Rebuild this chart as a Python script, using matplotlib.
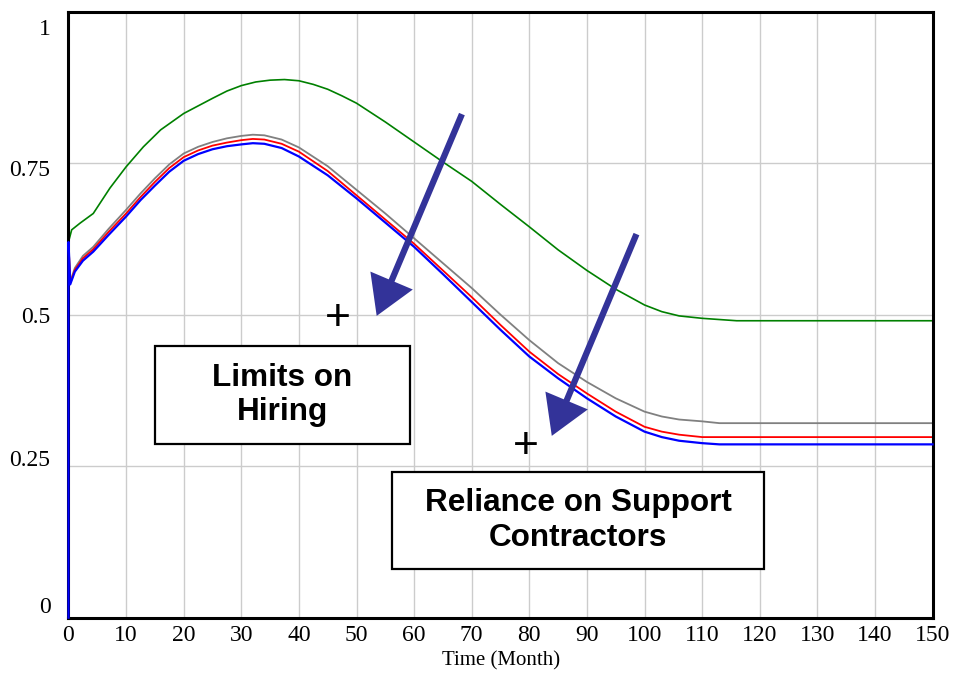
import matplotlib.pyplot as plt
import matplotlib.transforms as mtransforms
from matplotlib.patches import FancyArrowPatch

# values (Time in months)
t_green = [0, 0, 0.55, 2, 4.3, 7.2, 10, 13, 16, 20, 22.8, 25, 27.5, 30, 32.5, 35,
           37.5, 40, 42.5, 45, 47.5, 50, 55, 60, 65, 70, 75, 80, 85, 90, 95, 100, 103, 106,
           110, 116, 150]
v_green = [0, 0.62, 0.640, 0.651, 0.667, 0.709, 0.744, 0.777, 0.805, 0.832, 0.846, 0.857,
           0.869, 0.878, 0.884, 0.887, 0.888, 0.886, 0.880, 0.872, 0.861,
           0.849, 0.818, 0.785, 0.752, 0.720, 0.682, 0.645, 0.607, 0.573, 0.542, 0.516,
           0.505, 0.498, 0.494, 0.490, 0.490]

t_base = [0, 0, 0.3, 1.1, 2.5, 4.3, 7, 10, 12.5, 15, 17.5, 20, 22.5, 25, 27.5, 30, 32, 34,
          37, 40, 45, 50, 55, 60, 65, 70, 75, 80, 85, 90, 95, 100, 103, 106, 110, 113, 150]
v_gray = [0, 0.62, 0.555, 0.577, 0.597, 0.612, 0.642, 0.673, 0.700, 0.725, 0.748, 0.766,
          0.777, 0.785, 0.791, 0.795, 0.797, 0.796, 0.789, 0.776, 0.745, 0.706, 0.667,
          0.626, 0.585, 0.544, 0.500, 0.458, 0.420, 0.389, 0.362, 0.340, 0.332, 0.327,
          0.324, 0.321, 0.321]
v_red = [0, 0.62, 0.552, 0.574, 0.593, 0.608, 0.637, 0.667, 0.694, 0.719, 0.742, 0.760,
         0.771, 0.779, 0.784, 0.788, 0.790, 0.789, 0.782, 0.769, 0.737, 0.697, 0.657,
         0.617, 0.573, 0.529, 0.483, 0.439, 0.402, 0.370, 0.340, 0.315, 0.307, 0.302,
         0.298, 0.298, 0.298]
v_blue = [0, 0.62, 0.550, 0.571, 0.589, 0.604, 0.632, 0.662, 0.689, 0.713, 0.736, 0.754,
          0.765, 0.773, 0.778, 0.781, 0.783, 0.782, 0.775, 0.761, 0.730, 0.692, 0.652,
          0.612, 0.567, 0.521, 0.475, 0.431, 0.395, 0.362, 0.332, 0.307, 0.298, 0.292,
          0.288, 0.286, 0.286]

x_ticks = list(range(0, 151, 10))
y_ticks = [0, 0.25, 0.5, 0.75, 1]
y_labels = ['0', '0.25', '0.5', '0.75', '1']

fig = plt.figure(figsize=(9.54, 6.79), dpi=100)
ax = fig.add_axes([0.0718, 0.0903, 0.9057, 0.8925])

ax.plot(t_green, v_green, color='#008000', lw=1.2)
ax.plot(t_base, v_gray, color='#808080', lw=1.3)
ax.plot(t_base, v_red, color='#ff0000', lw=1.3)
ax.plot(t_base, v_blue, color='#0000ff', lw=1.6, zorder=3, clip_on=False)

ax.set_xlim(0, 150)
ax.set_ylim(0, 1)
ax.set_xticks(x_ticks)
ax.set_yticks(y_ticks)
ax.set_yticklabels(y_labels)
ax.grid(True, color='#cccccc', lw=1.0)
ax.set_axisbelow(True)
ax.tick_params(length=0, labelsize=17)
ax.tick_params(axis='x', pad=5)
ax.tick_params(axis='y', pad=13)
for lab in ax.get_xticklabels() + ax.get_yticklabels():
    lab.set_fontfamily('Liberation Serif')

# vensim places the y labels a little off the grid lines
ylabs = ax.get_yticklabels()
ylabs[0].set_va('bottom')
ylabs[-1].set_va('top')
shifts = [0, 6, 0, -3.5, -5]
for lab, dy in zip(ylabs, shifts):
    lab.set_transform(lab.get_transform() +
                      mtransforms.ScaledTranslation(0, dy / 72, fig.dpi_scale_trans))

for s in ax.spines.values():
    s.set_linewidth(2.2)
    s.set_color('black')

fig.text(501 / 954, 1 - 665 / 679, 'Time (Month)', ha='center', va='baseline',
         fontsize=15, family='Liberation Serif')

# arrows and plus signs
arrow_col = '#333399'
for (x0, y0), (x1, y1) in [((68.3, 0.831), (53.5, 0.498)), ((98.6, 0.633), (83.9, 0.300))]:
    ax.add_patch(FancyArrowPatch((x0, y0), (x1, y1),
                                 arrowstyle='-|>,head_length=1.5,head_width=0.9',
                                 mutation_scale=14, lw=4.5, color=arrow_col, shrinkA=0,
                                 shrinkB=0, capstyle='butt', joinstyle='miter', zorder=5))
ax.text(46.7, 0.493, '+', fontsize=32, ha='center', va='center', family='Liberation Sans')
ax.text(79.4, 0.283, '+', fontsize=32, ha='center', va='center', family='Liberation Sans')


def text_box(px0, py0, px1, py1, txt):
    # box corners measured in pixels on the reference, converted to data units
    x0 = (px0 - 68.5) / 5.76
    x1 = (px1 - 68.5) / 5.76
    y0 = (617.7 - py1) / 606
    y1 = (617.7 - py0) / 606
    ax.add_patch(plt.Rectangle((x0, y0), x1 - x0, y1 - y0, fc='white', ec='black',
                               lw=1.6, zorder=6))
    ax.text((x0 + x1) / 2, (y0 + y1) / 2, txt, ha='center', va='center', fontsize=22.7,
            fontweight='bold', family='Liberation Sans', linespacing=1.2, zorder=7)


text_box(155, 346, 410, 444, 'Limits on\nHiring')
text_box(392, 472, 764, 569, 'Reliance on Support\nContractors')

fig.savefig('out.png', dpi=100)
